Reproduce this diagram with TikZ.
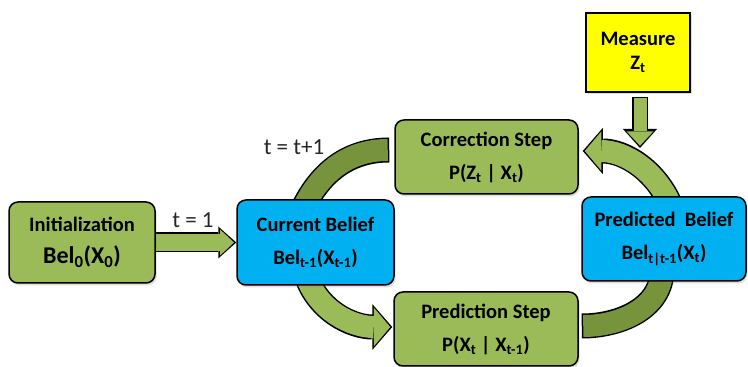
\documentclass[tikz,border=0pt]{standalone}
\usepackage{fontspec}
\setmainfont{Carlito}
\usetikzlibrary{arrows.meta, backgrounds, shadows, calc, positioning}

\definecolor{boxgreen}{RGB}{155,187,89}
\definecolor{arcgreen}{RGB}{119,147,60}
\definecolor{beliefblue}{RGB}{0,176,240}
\definecolor{measyellow}{RGB}{255,255,0}

\begin{document}
\begin{tikzpicture}[x=1pt, y=1pt,
    stepbox/.style={draw, line width=1.5pt, rounded corners=9pt, align=center,
        font=\fontsize{20.5}{24}\selectfont\bfseries,
        drop shadow={shadow xshift=1.5pt, shadow yshift=-2.5pt, opacity=0.25}},
    steplabel/.style={font=\fontsize{23}{27}\selectfont, text=black!85},
    bandflat/.style={draw=#1, line width=22pt, shorten >=1.5pt,
        preaction={draw=black, line width=25pt, shorten >=0pt}},
    bandstart/.style={draw=#1, line width=22pt, shorten <=1.5pt,
        preaction={draw=black, line width=25pt, shorten <=0pt}},
    bandhead/.style={draw=#1, line width=22pt, shorten >=2pt,
        -{Triangle[length=16.5pt, width=39pt, line width=0pt 0 0]},
        preaction={draw=black, line width=25pt, shorten >=0pt,
            -{Triangle[length=20pt, width=46pt, line width=0pt 0 0]}}},
    slimarrow/.style={draw=boxgreen, line width=17pt, shorten >=2.2pt,
        -{Triangle[length=14pt, width=26pt, line width=0pt 0 0]},
        preaction={draw=black, line width=20pt, shorten >=0pt,
            -{Triangle[length=18pt, width=32pt, line width=0pt 0 0]}}},
    measarrow/.style={draw=boxgreen, line width=13pt, shorten >=2.2pt, shorten <=1.5pt,
        -{Triangle[length=14.5pt, width=27pt, line width=0pt 0 0]},
        preaction={draw=black, line width=16pt, shorten >=0pt, shorten <=0pt,
            -{Triangle[length=19pt, width=34pt, line width=0pt 0 0]}}}
]
\useasboundingbox (0,0) rectangle (748,367);

% Boxes
\node[stepbox, fill=boxgreen, minimum width=146pt, minimum height=81pt] (init) at (82,124.5)
    {Initialization\\[8pt]{\fontsize{24}{28}\selectfont Bel\textsubscript{0}(X\textsubscript{0})}};
\node[stepbox, fill=beliefblue, minimum width=157pt, minimum height=85pt] (cur) at (315.5,124.5)
    {Current Belief\\[9pt]Bel\textsubscript{t-1}(X\textsubscript{t-1})};
\node[stepbox, fill=boxgreen, minimum width=183pt, minimum height=74pt] (corr) at (486.5,210)
    {Correction Step\\[9pt]P(Z\textsubscript{t} | X\textsubscript{t})};
\node[stepbox, fill=boxgreen, minimum width=184pt, minimum height=74pt] (pred) at (486,38)
    {Prediction Step\\[9pt]P(X\textsubscript{t} | X\textsubscript{t-1})};
\node[stepbox, fill=beliefblue, minimum width=164pt, minimum height=84pt] (predb) at (664,128)
    {Predicted\ \ Belief\\[9pt]Bel\textsubscript{t|t-1}(X\textsubscript{t})};
\node[stepbox, fill=measyellow, rounded corners=0pt, minimum width=104pt, minimum height=79pt] (meas) at (638,314.5)
    {Measure\\Z\textsubscript{t}};

% Labels
\node[steplabel] (tone) at (193,147) {t = 1};
\node[steplabel] (tnext) at (294,220) {t = t+1};

% Block arrows, behind the boxes
\coordinate (zin) at (640,219);
\begin{scope}[on background layer]
    \draw[slimarrow] (init.center) -- (cur.west);
    \draw[bandflat=arcgreen] ($(cur.north)+(-14,-12)$) to[out=65, in=180] ($(corr.west)+(-5,7)$);
    \draw[bandhead=boxgreen] ($(cur.south)+(-10,12)$) to[out=-72, in=180] ($(pred.west)+(-1,2)$);
    \draw[bandstart=arcgreen] ($(pred.east)+(3,3)$) to[out=0, in=-90] ($(predb.south)+(-2,12)$);
    \draw[bandhead=boxgreen] ($(predb.north)+(8,-12)$) to[out=112, in=0] ($(corr.east)+(4,6)$);
    \draw[measarrow] ($(meas.south -| zin)+(0,-4)$) -- (zin);
\end{scope}

\end{tikzpicture}
\end{document}
